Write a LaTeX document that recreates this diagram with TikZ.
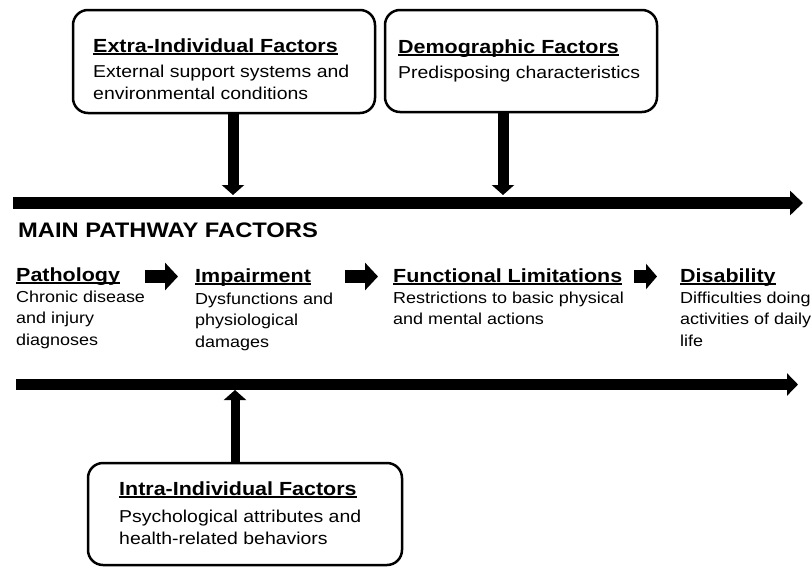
\documentclass[tikz,border=0pt]{standalone}
\usepackage{fontspec}
\setmainfont[FakeStretch=1.13]{Liberation Sans}
\usetikzlibrary{arrows.meta}
\newcommand\myul[1]{\setbox0\hbox{#1}\rlap{\rule[-3pt]{\wd0}{1.8pt}}\box0}
\newcommand\lns[2][22pt]{\vtop{\baselineskip=#1\lineskiplimit=-20pt\halign{##\hfil\cr#2\crcr}}}
\tikzset{
  box/.style={draw=black, line width=2.5pt, rounded corners=15pt, fill=white, inner sep=0pt},
  ttl/.style={anchor=base west, inner sep=0pt, font=\fontsize{19}{22}\selectfont\bfseries},
  body/.style={anchor=base west, inner sep=0pt, font=\fontsize{17.2}{22}\selectfont},
  pbody/.style={anchor=base west, inner sep=0pt, font=\fontsize{15.9}{21.5}\selectfont},
  mainline/.style={line width=12pt, -{Triangle[length=13pt,width=24pt]}},
  vert/.style={line width=11pt, -{Triangle[length=10pt,width=22pt]}},
  uparr/.style={line width=9pt, -{Triangle[length=10pt,width=22pt]}},
  steparr/.style={line width=13pt, -{Triangle[length=13pt,width=27pt]}},
}
\begin{document}
\begin{tikzpicture}[x=1pt,y=-1pt]
\useasboundingbox (0,0) rectangle (812,568);
% boxes
\node[box, minimum width=302pt, minimum height=103pt] (extra) at (224,61.5) {};
\node[box, minimum width=272pt, minimum height=102pt] (demo) at (521,61) {};
\node[box, minimum width=314pt, minimum height=102pt] (intra) at (245,514) {};
% box texts
\node[ttl] (extraT) at (93,52) {\myul{Extra-Individual Factors}};
\node[body] (extraB) at (93,77) {\lns{External support systems and\cr environmental conditions}};
\node[ttl] (demoT) at (398,53) {\myul{Demographic Factors}};
\node[body] (demoB) at (398,78) {Predisposing characteristics};
\node[ttl] (intraT) at (119,495) {\myul{Intra-Individual Factors}};
\node[body] (intraB) at (119,522) {\lns{Psychological attributes and\cr health-related behaviors}};
% main lines
\coordinate (topL) at (13,203);
\coordinate (topR) at (803,203);
\coordinate (botL) at (16,384.5);
\coordinate (botR) at (798,384.5);
\draw[mainline] (topL) -- (topR);
\draw[mainline, line width=11pt, -{Triangle[length=11pt,width=22pt]}] (botL) -- (botR);
% vertical arrows
\coordinate (t1) at (233,195);
\coordinate (t2) at (503,195);
\coordinate (b1) at (235,390);
\draw[vert] (t1 |- extra.south) -- (t1);
\draw[vert] (t2 |- demo.south) -- (t2);
\draw[uparr] (b1 |- intra.north) -- (b1);
% main pathway
\node[ttl, font=\fontsize{21}{22}\selectfont\bfseries] (mainT) at (18,237) {MAIN PATHWAY FACTORS};
\node[ttl] (path) at (16,281) {\myul{Pathology}};
\node[pbody] (pathB) at (16,302) {\lns[21.5pt]{Chronic disease\cr and injury\cr diagnoses}};
\node[ttl] (imp) at (195,282) {\myul{Impairment}};
\node[pbody] (impB) at (195,304) {\lns[21.5pt]{Dysfunctions and\cr physiological\cr damages}};
\node[ttl] (func) at (393,282) {\myul{Functional Limitations}};
\node[pbody] (funcB) at (393,303) {\lns[21.5pt]{Restrictions to basic physical\cr and mental actions}};
\node[ttl] (dis) at (680,282) {\myul{Disability}};
\node[pbody] (disB) at (680,303) {\lns[21.5pt]{Difficulties doing\cr activities of daily\cr life}};
% step arrows
\coordinate (a1s) at (145,276.5); \coordinate (a1e) at (178,276.5);
\coordinate (a2s) at (345,276.5); \coordinate (a2e) at (378,276.5);
\coordinate (a3s) at (634,276.5); \coordinate (a3e) at (657,276.5);
\draw[steparr] (a1s) -- (a1e);
\draw[steparr] (a2s) -- (a2e);
\draw[steparr, -{Triangle[length=11pt,width=25pt]}] (a3s) -- (a3e);
\end{tikzpicture}
\end{document}
